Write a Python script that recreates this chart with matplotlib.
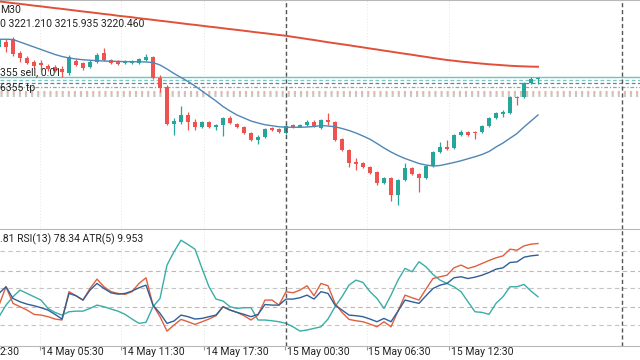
import matplotlib
matplotlib.use("Agg")
import matplotlib.pyplot as plt
import matplotlib.transforms as mtransforms

plt.rcParams['font.family'] = ['Roboto', 'DejaVu Sans']

# ---------------- data ----------------
bar_index = list(range(-41, 37))
opens = [3245.3, 3249.3, 3251.7, 3240.5, 3236.5, 3233.3, 3232.5, 3230.1, 3229.3, 3227.7,
         3224.5, 3234.1, 3232.5, 3229.3, 3233.3, 3240.5, 3234.9, 3234.1, 3232.5, 3232.5,
         3232.5, 3234.9, 3237.3, 3220.5, 3213.3, 3183.7, 3185.3, 3190.9, 3185.3, 3181.3,
         3185.3, 3181.7, 3182.9, 3188.5, 3183.7, 3181.3, 3176.5, 3170.9, 3173.3, 3180.5,
         3179.7, 3176.5, 3182.5, 3181.7, 3182.9, 3185.3, 3180.5, 3186.9, 3185.3, 3171.7,
         3162.9, 3152.9, 3152.5, 3149.3, 3145.3, 3136.5, 3140.5, 3126.9, 3138.9, 3148.5,
         3143.7, 3140.5, 3150.1, 3161.3, 3165.3, 3164.5, 3174.9, 3177.3, 3177.3, 3177.3,
         3182.1, 3188.5, 3192.1, 3192.5, 3205.3, 3205.3, 3216.5, 3219.7]
highs = [3253.3, 3251.7, 3253.3, 3242.1, 3238.1, 3234.9, 3234.9, 3231.7, 3230.9, 3230.1,
         3238.9, 3235.7, 3233.3, 3234.9, 3240.5, 3244.5, 3235.7, 3234.9, 3234.9, 3234.9,
         3236.5, 3239.7, 3238.1, 3222.9, 3214.9, 3188.5, 3198.1, 3193.3, 3187.7, 3186.1,
         3186.1, 3183.7, 3189.3, 3190.1, 3184.5, 3182.1, 3177.3, 3174.9, 3180.5, 3181.3,
         3180.5, 3183.7, 3183.7, 3183.7, 3186.9, 3186.9, 3187.7, 3192.5, 3186.1, 3172.5,
         3163.7, 3156.5, 3153.3, 3150.1, 3146.1, 3141.3, 3141.3, 3139.7, 3152.5, 3149.3,
         3144.5, 3150.9, 3162.1, 3169.3, 3170.9, 3175.7, 3178.9, 3178.1, 3178.1, 3182.9,
         3189.3, 3193.3, 3194.9, 3206.1, 3206.1, 3217.3, 3221.3, 3221.21]
lows = [3243.7, 3241.3, 3238.1, 3233.3, 3231.7, 3228.5, 3226.9, 3226.1, 3225.3, 3221.3,
        3222.9, 3230.1, 3226.9, 3228.5, 3232.5, 3234.1, 3231.7, 3230.9, 3231.7, 3231.7,
        3231.7, 3234.1, 3219.7, 3209.3, 3182.9, 3174.9, 3183.7, 3178.9, 3178.9, 3180.5,
        3180.5, 3178.9, 3174.1, 3183.7, 3180.5, 3175.7, 3170.1, 3167.7, 3172.5, 3178.1,
        3176.5, 3175.7, 3180.5, 3181.3, 3182.1, 3181.3, 3179.7, 3182.9, 3170.1, 3162.1,
        3149.3, 3146.9, 3148.5, 3143.7, 3134.9, 3135.7, 3122.1, 3118.9, 3138.1, 3142.9,
        3129.3, 3139.7, 3149.3, 3160.5, 3162.9, 3163.7, 3174.1, 3174.1, 3171.7, 3176.5,
        3181.3, 3187.7, 3189.3, 3191.7, 3198.9, 3204.5, 3215.7, 3215.935]
closes = [3250.9, 3245.3, 3239.7, 3236.5, 3232.5, 3230.1, 3230.9, 3227.7, 3226.1, 3225.3,
          3237.3, 3230.9, 3228.5, 3233.3, 3238.9, 3234.9, 3232.5, 3231.7, 3233.3, 3233.3,
          3235.7, 3237.3, 3220.5, 3212.5, 3183.7, 3186.1, 3190.9, 3185.3, 3181.3, 3185.3,
          3181.3, 3182.5, 3188.5, 3184.5, 3181.3, 3176.5, 3170.9, 3173.3, 3179.7, 3178.9,
          3177.3, 3182.1, 3181.7, 3182.5, 3185.3, 3182.1, 3186.9, 3185.3, 3170.9, 3162.9,
          3152.5, 3152.1, 3149.3, 3144.5, 3136.5, 3140.5, 3126.9, 3138.9, 3148.5, 3143.7,
          3140.5, 3150.1, 3161.3, 3165.3, 3163.7, 3174.9, 3177.3, 3174.9, 3176.5, 3182.1,
          3188.5, 3192.5, 3192.9, 3205.3, 3204.5, 3216.5, 3219.7, 3220.46]

ma_fast = [3251.5, 3251.5, 3251.3, 3249.3, 3247.3, 3245.3, 3243.3, 3241.3, 3239.3, 3237.7,
           3236.5, 3235.7, 3235.1, 3234.7, 3234.4, 3234.1, 3233.9, 3233.8, 3233.6, 3233.5,
           3233.5, 3233.3, 3232.9, 3230.9, 3227.7, 3224.1, 3220.9, 3217.7, 3214.1, 3210.1,
           3206.1, 3202.1, 3197.7, 3194.1, 3190.9, 3188.5, 3186.1, 3184.5, 3183.1, 3182.3,
           3181.5, 3181.1, 3181.1, 3181.1, 3181.3, 3181.7, 3182.5, 3182.1, 3181.5, 3180.1,
           3178.5, 3176.5, 3174.1, 3171.5, 3168.1, 3164.5, 3161.3, 3158.5, 3156.1, 3154.1,
           3152.1, 3150.9, 3150.1, 3150.5, 3151.7, 3152.9, 3154.3, 3155.9, 3157.5, 3159.3,
           3161.7, 3165.3, 3168.5, 3172.3, 3176.1, 3181.3, 3186.1, 3190.9]
ma_slow = [3281.8, 3281.1, 3280.4, 3279.8, 3279.1, 3278.4, 3277.8, 3277.1, 3276.4, 3275.8,
           3275.1, 3274.4, 3273.7, 3273.1, 3272.4, 3271.7, 3271.1, 3270.3, 3269.7, 3269.1,
           3268.3, 3267.7, 3267.0, 3266.3, 3265.7, 3265.0, 3264.3, 3263.6, 3263.0, 3262.3,
           3261.6, 3261.0, 3260.3, 3259.6, 3259.0, 3258.3, 3257.6, 3256.9, 3256.3, 3255.6,
           3254.9, 3254.3, 3253.4, 3252.6, 3251.7, 3250.9, 3250.0, 3249.1, 3248.3, 3247.5,
           3246.7, 3245.8, 3245.0, 3244.1, 3243.3, 3242.4, 3241.6, 3240.7, 3239.9, 3239.1,
           3238.2, 3237.4, 3236.5, 3235.7, 3234.9, 3234.3, 3233.6, 3233.1, 3232.5, 3232.0,
           3231.5, 3231.1, 3230.7, 3230.3, 3230.0, 3229.8, 3229.6, 3229.5]

osc_red = [36.2, 51.1, 37.6, 34.9, 32.2, 28.7, 28.1, 26.8, 24.9, 24.1,
           47.1, 43.8, 40.3, 49.7, 57.3, 51.1, 47.1, 45.7, 44.9, 47.1,
           53.8, 58.4, 36.2, 26.8, 15.1, 20.0, 24.6, 22.7, 20.5, 22.7,
           24.9, 27.6, 34.9, 32.2, 30.3, 27.6, 24.1, 28.1, 40.3, 40.3,
           36.2, 47.1, 46.2, 48.4, 51.9, 43.8, 53.8, 51.9, 37.6, 30.3,
           24.6, 23.5, 22.7, 20.8, 18.6, 22.7, 18.6, 31.3, 44.3, 42.2,
           40.3, 49.2, 57.8, 59.2, 60.5, 66.5, 68.7, 66.0, 67.6, 70.0,
           72.4, 74.6, 76.2, 81.6, 80.8, 84.3, 85.7, 86.2]
osc_blue = [45.7, 51.1, 41.6, 38.9, 37.0, 35.7, 34.1, 32.2, 28.7, 24.9,
            45.7, 43.8, 40.3, 48.4, 53.8, 49.7, 46.2, 45.1, 45.7, 47.6,
            50.3, 52.4, 36.2, 29.5, 21.4, 23.3, 28.1, 26.8, 24.9, 25.4,
            26.8, 28.1, 34.9, 32.2, 30.3, 28.7, 26.8, 28.7, 36.7, 36.2,
            36.2, 41.1, 41.1, 42.2, 44.3, 41.1, 47.1, 45.7, 36.2, 32.2,
            28.1, 27.6, 26.8, 24.9, 22.7, 25.4, 22.7, 31.3, 40.3, 38.9,
            37.6, 43.8, 49.7, 52.4, 53.8, 58.4, 59.2, 57.8, 58.9, 60.5,
            62.7, 65.4, 66.5, 70.8, 71.3, 75.1, 76.2, 76.8]
osc_teal = [26.8, 36.2, 43.0, 48.4, 45.7, 43.0, 40.3, 33.5, 30.3, 28.1,
            30.8, 31.3, 31.3, 33.5, 36.2, 34.9, 33.0, 31.3, 28.7, 24.9,
            21.4, 22.2, 34.9, 41.6, 68.7, 79.5, 88.9, 85.4, 81.6, 66.0,
            51.1, 41.1, 39.5, 34.9, 33.5, 34.1, 34.1, 24.1, 24.1, 23.5,
            22.7, 21.4, 18.6, 15.1, 16.0, 17.3, 18.6, 24.9, 34.9, 43.0,
            52.4, 56.5, 54.6, 47.1, 41.6, 33.5, 44.3, 56.5, 66.0, 63.3,
            71.4, 67.3, 61.1, 56.5, 53.8, 51.1, 47.1, 38.9, 30.8, 30.3,
            28.7, 37.6, 43.0, 51.1, 51.1, 53.0, 47.6, 43.0]

osc_levels_gray = [20, 50, 80]
osc_levels_red = [35, 64]

order_solid = 3221.1
order_dashed = [3218.9, 3216.3]
order_dashdot = [3213.1]
order_dotted = [(3209.5, "#e8b8a0"), (3206.9, "#c8c8c8")]

tick_pos = [-35.2, -23.6, -11.7, -0.1, 11.5, 23.3]
tick_labels = ["14 May 05:30", "14 May 11:30", "14 May 17:30",
               "15 May 00:30", "15 May 06:30", "15 May 12:30"]
first_label = "2:30"
day_sep = [0, 48]

header1 = "M30"
header2 = "0 3221.210 3215.935 3220.460"
osc_label = ".81 RSI(13) 78.34 ATR(5) 9.953"
order_label1 = "355 sell, 0.01"
order_label2 = "6355 tp"

# ---------------- figure ----------------
W, H = 640, 360
fig = plt.figure(figsize=(6.4, 3.6), dpi=100)
fig.patch.set_facecolor("white")

px0 = 286.0   # pixel x of bar 0
step = 7.0    # pixels per bar
xl = (-px0 / step, (W - px0) / step)

ax = fig.add_axes([0, (H - 229) / H, 1, 229 / H])
ax2 = fig.add_axes([0, (H - 346) / H, 1, (346 - 229) / H])

bull, bear = "#26a69a", "#ef5350"
for k, o, h, l, c in zip(bar_index, opens, highs, lows, closes):
    col = bull if c >= o else bear
    ax.vlines(k, l, h, color=col, lw=0.9, zorder=3)
    lo, hi = min(o, c), max(o, c)
    if hi - lo < 0.8:
        lo, hi = (lo + hi) / 2 - 0.4, (lo + hi) / 2 + 0.4
    ax.bar(k, hi - lo, bottom=lo, width=0.68, color=col, lw=0, zorder=4)

ax.plot(bar_index, ma_fast, color="#4f86b5", lw=1.0, zorder=5)
ax.plot(bar_index, ma_slow, color="#e0503a", lw=1.4, zorder=5)

# order lines
ax.axhline(order_solid, color="#6cc3c3", lw=1.0, zorder=2)
ax.axhline(order_dashed[0], color="#7cc7c4", lw=0.9, ls=(0, (3, 2)), zorder=2)
ax.axhline(order_dashed[1], color="#6a8090", lw=0.9, ls=(0, (3, 2)), zorder=2)
ax.axhline(order_dashdot[0], color="#88aaaa", lw=0.9, ls=(0, (3, 1.5, 1, 1.5)), zorder=2)
for yv, colr in order_dotted:
    ax.axhline(yv, color=colr, lw=2.2, ls=(0, (0.7, 1.3)), zorder=2)

for a in (ax, ax2):
    for s in ("left", "right", "bottom"):
        a.spines[s].set_visible(False)
    a.spines["top"].set_color("#b8b8b8")
    a.set_yticks([])
    for tp in tick_pos:
        a.axvline(tp, color="#e6e6e6", lw=0.7, ls=(0, (1, 2)), zorder=0)
    for ds in day_sep:
        a.axvline(ds, color="#555555", lw=1.0, ls=(0, (3, 2)), zorder=6)
ax.set_xticks([])
ax.set_xlim(*xl)
ax.set_ylim(3099.7, 3282.9)

ax.text(0.0, 1 - 10 / 229, header1, transform=ax.transAxes, fontsize=7.5,
        color="#222", va="center", ha="left")
ax.text(0.0, 1 - 24 / 229, header2, transform=ax.transAxes, fontsize=7.5,
        color="#222", va="center", ha="left")
ax.text(0.0, 1 - 72 / 229, order_label1, transform=ax.transAxes, fontsize=7.5,
        color="#222", va="center", ha="left", zorder=7)
ax.text(0.0, 1 - 88 / 229, order_label2, transform=ax.transAxes, fontsize=7.5,
        color="#222", va="center", ha="left", zorder=7)

# oscillator panel
ax2.plot(bar_index, osc_teal, color="#3aada6", lw=1.0, zorder=3)
ax2.plot(bar_index, osc_red, color="#e0603e", lw=1.0, zorder=4)
ax2.plot(bar_index, osc_blue, color="#2f5f9a", lw=1.0, zorder=5)
for lv in osc_levels_gray:
    ax2.axhline(lv, color="#c4c4c4", lw=0.8, ls=(0, (4, 3)), zorder=1)
for lv in osc_levels_red:
    ax2.axhline(lv, color="#e8a898", lw=0.8, ls=(0, (4, 3)), zorder=1)
ax2.spines["bottom"].set_visible(True)
ax2.spines["bottom"].set_color("#b8b8b8")
ax2.set_xticks(tick_pos)
ax2.set_xticklabels([""] * len(tick_pos))
ax2.tick_params(axis="x", length=3, color="#999999", direction="out")
ax2.set_xlim(*xl)
ax2.set_ylim(3.0, 98.0)
ax2.text(0.0, 1 - 10 / 117, osc_label, transform=ax2.transAxes, fontsize=7.5,
         color="#222", va="center", ha="left")

btr = mtransforms.blended_transform_factory(ax2.transData, ax2.transAxes)
lab_tr = mtransforms.offset_copy(btr, fig=fig, x=1.5, y=-6, units="dots")
for tp, lab in zip(tick_pos, tick_labels):
    ax2.text(tp, 0, lab, transform=lab_tr, fontsize=7.5, color="#222",
             va="center", ha="left", clip_on=False)
ax2.text(0.0, 0, first_label, transform=mtransforms.offset_copy(
    ax2.transAxes, fig=fig, x=0, y=-6, units="dots"), fontsize=7.5, color="#222",
    va="center", ha="left", clip_on=False)

fig.savefig("out.png", dpi=100, facecolor="white")
